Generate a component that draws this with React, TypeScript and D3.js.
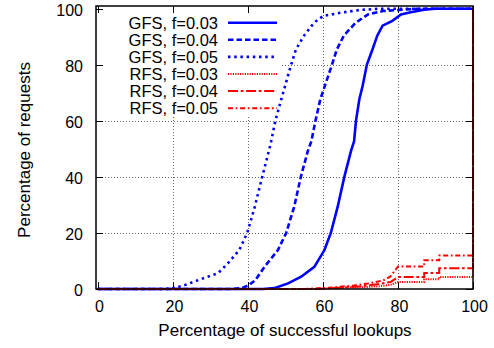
import React from "react";
import * as d3 from "d3";

// CDF curves: [percentage of successful lookups, percentage of requests]
const gfs03: [number, number][] = [
  [0, 0], [44, 0], [47, 0.3], [50.7, 2], [54.2, 4.4], [57.7, 7.9], [60.4, 13.9], [62.1, 20],
  [63.9, 29.2], [65.7, 40], [67.5, 49.4], [68.3, 52.7], [68.8, 60], [69.7, 67.7], [70.6, 72.6],
  [71.7, 80], [73.2, 85.5], [74.5, 90.5], [75.9, 94], [78.5, 95.7], [80.8, 98], [83.4, 98.8],
  [87, 99.7], [90, 100], [100, 100],
];
const gfs04: [number, number][] = [
  [0, 0], [36, 0], [38.5, 0.4], [40.3, 1.4], [42, 3.2], [44.4, 7.9], [48, 13.9], [50.2, 20],
  [52.3, 29.2], [54.1, 40], [56, 49.4], [56.9, 52.7], [58, 60], [59.3, 67.7], [62.4, 80],
  [63.7, 85.5], [65.6, 90.5], [68.7, 95], [72, 98], [76, 99.2], [81.6, 99.7], [85, 100], [100, 100],
];
const gfs05: [number, number][] = [
  [0, 0], [18, 0], [20.5, 0.4], [23.2, 1.4], [26.8, 3.2], [32, 5.6], [34.7, 9.2], [37.7, 13.9],
  [39.8, 20], [41.8, 29.2], [43.8, 40], [45.6, 49.4], [46.2, 52.7], [47.3, 60], [48.9, 67.7],
  [51.5, 80], [52.8, 85.5], [55, 90.5], [57.6, 95], [60, 97.4], [64.7, 98.6], [70, 99.6],
  [75, 100], [100, 100],
];
const rfs03: [number, number][] = [
  [0, 0], [60, 0], [62, 0.3], [70, 0.6], [75, 1], [78, 1.5], [80, 2.5], [87, 2.5], [87, 3.5],
  [91, 3.5], [91, 4.3], [100, 4.3], [100, 100],
];
const rfs04: [number, number][] = [
  [0, 0], [58, 0], [65, 0.5], [70, 1], [75, 1.8], [78, 2.5], [80, 4.3], [87, 4.3], [87, 5.7],
  [91, 5.7], [91, 7.4], [100, 7.4], [100, 100],
];
const rfs05: [number, number][] = [
  [0, 0], [55, 0], [62, 0.5], [68, 1.2], [72, 2], [76, 3], [78, 4.5], [80, 8], [87, 8],
  [87, 10.3], [91, 10.3], [91, 12], [100, 12], [100, 100],
];

const xTicks = [0, 20, 40, 60, 80, 100];
const yTicks = [0, 20, 40, 60, 80, 100];

const series = [
  { name: "GFS, f=0.03", data: gfs03, color: "#0000ff", width: 2.6, dash: "" },
  { name: "GFS, f=0.04", data: gfs04, color: "#0000ff", width: 2.6, dash: "5.5,3" },
  { name: "GFS, f=0.05", data: gfs05, color: "#0000ff", width: 2.6, dash: "2.5,3.7" },
  { name: "RFS, f=0.03", data: rfs03, color: "#ff0000", width: 2, dash: "1.2,1.2" },
  { name: "RFS, f=0.04", data: rfs04, color: "#ff0000", width: 2, dash: "10,2.7,2.7,2.7" },
  { name: "RFS, f=0.05", data: rfs05, color: "#ff0000", width: 2, dash: "5,2.7,1.7,2.7" },
];

export default function App() {
  const W = 494, H = 348;
  const left = 96, right = 473, top = 6, bottom = 289;
  const x = d3.scaleLinear().domain([-0.5, 100]).range([left, right]);
  const y = d3.scaleLinear().domain([0, 101]).range([bottom, top]);
  const line = d3.line<[number, number]>().x(d => x(d[0])).y(d => y(d[1]));
  const font = "'Liberation Sans', Arial, sans-serif";
  const px = (v: number) => Math.round(v) + 0.5;

  return (
    <div style={{ position: "absolute", left: 0, top: 0 }}>
      <svg width={W} height={H} style={{ display: "block", background: "#fff" }} fontFamily={font}>
        {/* grid */}
        {xTicks.slice(1, -1).map(t => (
          <line key={"gx" + t} x1={px(x(t))} x2={px(x(t))} y1={top} y2={bottom} stroke="#000" strokeWidth={1} strokeDasharray="1,2" opacity={0.6} />
        ))}
        {yTicks.slice(1, -1).map(t => (
          <line key={"gy" + t} x1={left} x2={right} y1={px(y(t))} y2={px(y(t))} stroke="#000" strokeWidth={1} strokeDasharray="1,2" opacity={0.6} />
        ))}
        {/* opaque key box */}
        <rect x={100} y={13} width={180} height={103} fill="#fff" />
        {/* ticks */}
        {xTicks.map(t => (
          <g key={"tx" + t}>
            <line x1={px(x(t))} x2={px(x(t))} y1={bottom} y2={bottom - 7} stroke="#000" />
            <line x1={px(x(t))} x2={px(x(t))} y1={top} y2={top + 7} stroke="#000" />
            <text x={x(t) + 1.5} y={311.5} fontSize={16} textAnchor="middle" fill="#000">{t}</text>
          </g>
        ))}
        {yTicks.map(t => (
          <g key={"ty" + t}>
            <line x1={left} x2={left + 7} y1={px(y(t))} y2={px(y(t))} stroke="#000" />
            <line x1={right} x2={right - 7} y1={px(y(t))} y2={px(y(t))} stroke="#000" />
            <text x={83} y={y(t) + 7} fontSize={16} textAnchor="end" fill="#000">{t}</text>
          </g>
        ))}
        {/* curves */}
        {series.map(s => (
          <path key={s.name} d={line(s.data) || ""} fill="none" stroke={s.color} strokeWidth={s.width} strokeDasharray={s.dash || undefined} />
        ))}
        {/* border */}
        <rect x={left} y={top} width={right - left} height={bottom - top} fill="none" stroke="#000" strokeWidth={1.5} />
        {/* legend */}
        {series.map((s, i) => {
          const ly = 22.7 + i * 17.1;
          return (
            <g key={"lg" + s.name}>
              <text x={218} y={ly + 6} fontSize={16.5} textAnchor="end" fill="#000">{s.name}</text>
              <line x1={228} x2={277} y1={ly} y2={ly} stroke={s.color} strokeWidth={s.width} strokeDasharray={s.dash || undefined} />
            </g>
          );
        })}
        {/* axis labels */}
        <text x={285} y={336} fontSize={17} textAnchor="middle" fill="#000">Percentage of successful lookups</text>
        <text transform={`translate(30,150) rotate(-90)`} fontSize={17} textAnchor="middle" fill="#000">Percentage of requests</text>
      </svg>
    </div>
  );
}
